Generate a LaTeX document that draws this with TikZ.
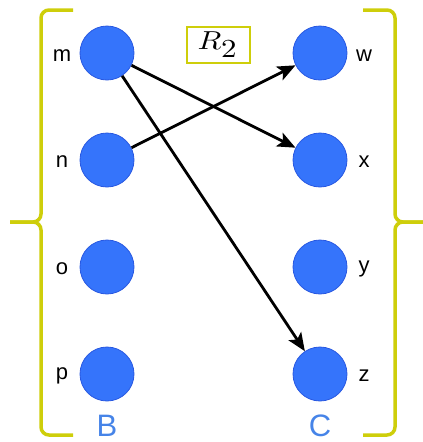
\documentclass[tikz,border=0pt]{standalone}
\usepackage{fontspec}
\setmainfont{Liberation Sans}
\usetikzlibrary{arrows.meta}
\definecolor{llave}{RGB}{206,206,10}
\definecolor{punto}{RGB}{53,116,251}
\definecolor{bordepunto}{RGB}{40,88,225}
\definecolor{conjunto}{RGB}{70,132,232}
\tikzset{
  dot/.style={circle, fill=punto, draw=bordepunto, line width=0.8pt, minimum size=54pt, inner sep=0pt},
  etiq/.style={font=\fontsize{22}{22}\selectfont},
  nombre/.style={text=conjunto, font=\fontsize{31}{31}\selectfont},
  brace/.style={draw=llave, line width=3.5pt, rounded corners=8pt},
  flecha/.style={line width=2.8pt, -{Stealth[length=18pt,width=15pt,inset=4pt]}}
}
\begin{document}
\begin{tikzpicture}[x=1pt,y=-1pt]
        \useasboundingbox (0,0) rectangle (423,442);
        
        % Llaves de los conjuntos
        \draw[brace] (73,10) -- (41,10) -- (41,222) -- (10,222);
        \draw[brace] (10,222) -- (41,222) -- (41,435) -- (73,435);
        \draw[brace] (363,10) -- (395,10) -- (395,222) -- (423,222);
        \draw[brace] (423,222) -- (395,222) -- (395,435) -- (363,435);
        
        % Elementos de B
        \node[dot] (m) at (107,53) {};
        \node[dot] (n) at (107,160) {};
        \node[dot] (o) at (107,267) {};
        \node[dot] (p) at (107,374) {};
        
        % Elementos de C
        \node[dot] (w) at (320,53) {};
        \node[dot] (x) at (320,160) {};
        \node[dot] (y) at (320,267) {};
        \node[dot] (z) at (320,374) {};
        
        % Etiquetas
        \node[etiq] (lm) at (62,56) {m};
        \node[etiq] (ln) at (62,162) {n};
        \node[etiq] (lo) at (62,269) {o};
        \node[etiq] (lp) at (62,376) {p};
        \node[etiq] (lw) at (364,56) {w};
        \node[etiq] (lx) at (364,162) {x};
        \node[etiq] (ly) at (364,269) {y};
        \node[etiq] (lz) at (364,376) {z};
        
        \node[nombre] (B) at (107,426) {B};
        \node[nombre] (C) at (320,426) {C};
        
        % Relacion
        \node[draw=llave, line width=2pt, minimum width=63pt, minimum height=36pt, inner sep=0pt]
              (R) at (218,44.5) {\scalebox{3.1}[2.6]{$R_{\textstyle 2}$}};
        
        \draw[flecha] (m) -- (x);
        \draw[flecha] (n) -- (w);
        \draw[flecha] (m) -- (z);
    \end{tikzpicture}
\end{document}
